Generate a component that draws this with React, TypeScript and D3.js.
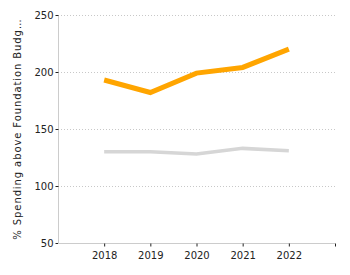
import React, { useRef, useEffect } from 'react';
import * as d3 from 'd3';

// Years on the x axis and the two series plotted against them
const years = [2018, 2019, 2020, 2021, 2022];
const spendingA = [193, 182, 199, 204, 220];
const spendingB = [130, 130, 128, 133, 131];
const yTicks = [50, 100, 150, 200, 250];
const yLabel = '% Spending above Foundation Budg…';

const FONT = '"DejaVu Sans", Verdana, sans-serif';

const App = () => {
    const svgRef = useRef<SVGSVGElement>(null);

    useEffect(() => {
        d3.select(svgRef.current).selectAll('*').remove();

        const width = 350;
        const height = 275;
        const margin = { top: 15, right: 15, bottom: 32, left: 58 };

        const svg = d3.select(svgRef.current)
            .attr('width', width)
            .attr('height', height)
            .style('position', 'absolute')
            .style('left', '0px')
            .style('top', '0px')
            .style('font-family', FONT);

        const x = d3.scaleLinear()
            .domain([2017, 2023])
            .range([margin.left, width - margin.right]);

        const y = d3.scaleLinear()
            .domain([50, 250])
            .range([height - margin.bottom, margin.top]);

        // Dotted horizontal gridlines
        svg.append('g')
            .selectAll('line')
            .data(yTicks.filter(t => t > 50))
            .enter()
            .append('line')
            .attr('x1', margin.left)
            .attr('x2', width - margin.right)
            .attr('y1', d => Math.round(y(d)) + 0.5)
            .attr('y2', d => Math.round(y(d)) + 0.5)
            .attr('stroke', '#c8c8c8')
            .attr('stroke-dasharray', '1,2');

        // Y axis
        const yAxis = svg.append('g')
            .attr('transform', `translate(${margin.left + 0.5},0)`)
            .call(d3.axisLeft(y).tickValues(yTicks).tickSize(3).tickPadding(2));
        yAxis.select('.domain').attr('stroke', '#cccccc').attr('d', `M0,${y(250)}V${y(50)}`);
        yAxis.selectAll('.tick line').attr('stroke', '#222');
        yAxis.selectAll('.tick text')
            .attr('font-size', 10)
            .attr('font-family', FONT)
            .attr('fill', '#222');

        // X axis, with an unlabelled tick at the end
        const xAxis = svg.append('g')
            .attr('transform', `translate(0,${y(50) + 0.5})`)
            .call(d3.axisBottom(x)
                .tickValues([...years, 2023])
                .tickFormat(d => (+d === 2023 ? '' : String(d)))
                .tickSize(3)
                .tickPadding(5));
        xAxis.select('.domain').attr('stroke', '#cccccc')
            .attr('d', `M${margin.left},0H${width - margin.right}`);
        xAxis.selectAll('.tick line').attr('stroke', '#222');
        xAxis.selectAll('.tick text')
            .attr('font-size', 10)
            .attr('font-family', FONT)
            .attr('fill', '#222');

        // Rotated y axis title
        svg.append('text')
            .attr('transform', `translate(21,${(y(50) + y(250)) / 2}) rotate(-90)`)
            .attr('text-anchor', 'middle')
            .attr('font-size', 10)
            .attr('font-family', FONT)
            .attr('letter-spacing', 0.9)
            .attr('fill', '#222')
            .text(yLabel);

        const line = d3.line<number>()
            .x((_, i) => x(years[i]))
            .y(d => y(d));

        svg.append('path')
            .datum(spendingB)
            .attr('fill', 'none')
            .attr('stroke', '#d6d6d6')
            .attr('stroke-width', 3.5)
            .attr('d', line);

        svg.append('path')
            .datum(spendingA)
            .attr('fill', 'none')
            .attr('stroke', '#ffa500')
            .attr('stroke-width', 5)
            .attr('d', line);
    }, []);

    return <svg ref={svgRef}></svg>;
};

export default App;
